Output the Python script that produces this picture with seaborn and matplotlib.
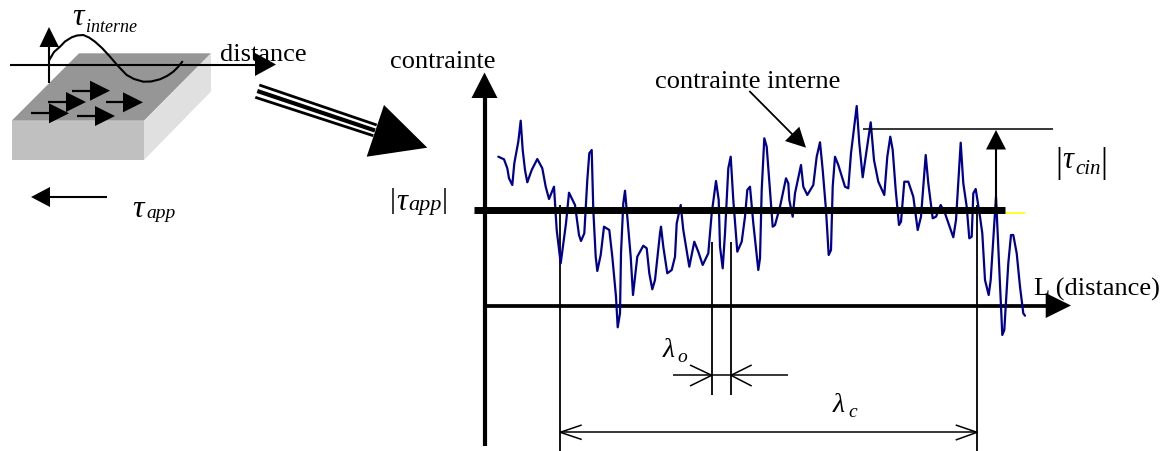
import matplotlib
matplotlib.use('Agg')
import matplotlib.pyplot as plt
import seaborn as sns

sns.set_theme(style='white')
plt.rcParams['font.family'] = ['Liberation Serif', 'DejaVu Serif']

# courbe de contrainte (en pixels)
distance = [498.3, 504, 507.3, 509, 512.3, 514.3, 518.3, 520.7, 522.7, 525, 527.3, 531.7, 537.3, 542.3, 545.7, 549,
            554, 556.7, 560.7, 566, 569, 575, 579, 581, 584.3, 587.3, 589.3, 591.7, 593.3, 595.7, 597.3, 600.7,
            604, 609.3, 612.3, 616, 617.7, 620, 621, 623.3, 625, 627.3, 630.7, 633, 637.3, 643.3, 646.7, 649.3,
            652.3, 655, 660, 661, 663.3, 667.3, 671.7, 675, 676.7, 680.7, 683.3, 689.3, 694.3, 698.3, 702.7, 708.3,
            711.7, 716, 718.7, 720, 722.7, 725, 728.3, 730.7, 733.3, 737.3, 741.7, 745, 747.3, 750, 753.3, 758.3,
            760, 761.7, 764.3, 766.7, 770, 772.7, 775, 780, 786, 788.3, 789.3, 792.7, 795, 801, 803.3, 807.3,
            813.3, 816.7, 820, 822.7, 826, 828.7, 831, 832.7, 835, 838.3, 845, 848.3, 851, 856.7, 859.3, 862.7,
            866.7, 870.7, 874, 878.3, 884.3, 887.3, 890.3, 892.7, 895.7, 899, 901, 904.3, 908.3, 913.3, 917.7, 921,
            925.7, 928.3, 932.7, 936, 940.7, 945, 953.3, 956, 960.7, 963.3, 966.7, 969.3, 971.7, 973.3, 975.7, 980,
            982.3, 985, 988.7, 990.7, 996, 998.3, 1002.3, 1004.3, 1008.3, 1011, 1013.3, 1016.7, 1020, 1023.3, 1025]
contrainte = [156.7, 159.3, 168.3, 178.3, 185, 163.3, 141.7, 120.7, 150, 170, 182.3, 170, 159, 168.3, 186.7, 199,
              186.7, 230, 263.3, 223.3, 192.7, 205, 235, 241, 233.3, 180, 153.3, 150, 210, 256.7, 271, 255,
              226.7, 230, 256.7, 296.7, 327.3, 313.3, 253.3, 203.3, 190.7, 216.7, 256.7, 295, 256.7, 245.7, 248.3, 273.3,
              289.3, 280, 233.3, 226.7, 246.7, 273.3, 270, 256.7, 223.3, 205, 230, 266.7, 241.7, 251.7, 265, 253.3,
              213.3, 181, 200, 246.7, 268.3, 233.3, 168.3, 156.7, 200, 251.7, 241.7, 216.7, 190, 186.7, 223.3, 270,
              258.3, 190, 138.3, 146.7, 190, 226.7, 225, 206.7, 178.3, 183.3, 200, 216.7, 193.3, 165, 186.7, 195,
              185, 156.7, 142.3, 170, 210, 255, 250, 186.7, 156.7, 165, 186.7, 188.3, 153.3, 106, 143.3, 177.3,
              150, 122.3, 160, 181.7, 195, 156.7, 136.7, 150, 190, 225, 221.7, 181.7, 181.7, 196.7, 230, 216.7,
              155, 183.3, 218.3, 216.7, 205, 213.3, 237.3, 220, 142.7, 183.3, 206.7, 238.3, 236.7, 193.3, 189, 216.7,
              233.3, 280, 295, 280, 196.7, 246.7, 335, 330, 263.3, 235, 235, 253.3, 286.7, 313.3, 315.7]

# petite courbe tau interne
interne_x = [49.3, 54, 60, 65, 71.7, 77, 83.3, 89, 95, 102, 110, 118, 126.7, 134, 143.3, 151, 160, 167, 173.3, 178, 182.3]
interne_y = [60, 52, 46.7, 41.5, 37.3, 35.5, 35, 37.5, 41.7, 48, 56.7, 66, 75, 79, 81.7, 81.5, 79.3, 76, 71.7, 67, 61.7]

fig, ax = plt.subplots(figsize=(11.67, 4.51), dpi=100)
fig.subplots_adjust(0, 0, 1, 1)
ax.set_xlim(0, 1167)
ax.set_ylim(451, 0)
ax.axis('off')


def trait(x, y, lw=1.5, color='black', z=3):
    ax.plot(x, y, color=color, lw=lw, solid_capstyle='butt', zorder=z)


def tete(pts, z=5):
    ax.fill([p[0] for p in pts], [p[1] for p in pts], color='black', lw=0, zorder=z)


def fleche_droite(x0, xb, xt, y, h=10):
    trait([x0, xb], [y, y], lw=1.6)
    tete([(xb, y - h), (xt, y), (xb, y + h)])


# bloc
ax.fill([11.7, 79, 211, 144], [120.7, 53.3, 53.3, 120.7], color='#969696', lw=0, zorder=1)
ax.fill([11.7, 144, 144, 11.7], [120.7, 120.7, 160, 160], color='#c0c0c0', lw=0, zorder=1)
ax.fill([144, 211, 211, 144], [120.7, 53.3, 91.5, 160], color='#e0e0e0', lw=0, zorder=1)

# axes du petit schema
trait([49, 49], [83, 45], lw=1.5)
tete([(39.5, 47), (49, 27), (59, 47)])
trait([10, 256], [64.5, 64.5], lw=1.5)
tete([(255, 53), (276, 64.5), (255, 76)])
ax.plot(interne_x, interne_y, color='black', lw=1.5, zorder=4)

fleche_droite(72, 90, 110, 90.7)
fleche_droite(48, 66, 86, 102)
fleche_droite(31, 49, 69, 113.3)
fleche_droite(106, 123, 143, 102.3)
fleche_droite(77, 95, 115, 116)

# fleche tau app
trait([106.7, 50], [197, 197], lw=1.5)
tete([(50, 187), (31, 197), (50, 207)])

# triple fleche
trait([259.3, 376.7], [85, 125], lw=2)
trait([257.3, 375], [91, 130.5], lw=3)
trait([255.3, 373.3], [97.3, 135.7], lw=2)
tete([(384, 105), (427.3, 147.7), (366.7, 156.7)])

# axes du grand schema
trait([484.5, 484.5], [446, 96], lw=3)
tete([(471.5, 98), (484.5, 72.5), (497.5, 98)])
trait([484, 1047], [305.5, 305.5], lw=2.7)
tete([(1045.7, 293), (1071, 305.5), (1045.7, 318)])

sns.lineplot(x=distance, y=contrainte, sort=False, estimator=None, color='#000090', lw=1.6, ax=ax, zorder=3)

# tau app
trait([474, 1025], [212.7, 212.7], lw=1.2, color='#ffff00', z=4)
trait([474, 1005], [210, 210], lw=5, z=5)

# reperes verticaux
trait([560.3, 560.3], [205, 451], lw=1.3, z=2)
trait([711.7, 711.7], [242, 394.5], lw=1.3, z=2)
trait([731, 731], [242, 394.5], lw=1.3, z=2)
trait([977, 977], [205, 451], lw=1.3, z=2)

# lambda o
trait([673.3, 788.3], [375.3, 375.3], lw=1.1)
trait([690, 711.7, 690], [365, 375.3, 386], lw=1.1)
trait([751.7, 731, 751.7], [365, 375.3, 386], lw=1.1)

# lambda c
trait([560.3, 977], [432.3, 432.3], lw=1.1)
trait([581.7, 560.3, 581.7], [425, 432.3, 439.5], lw=1.1)
trait([955.7, 977, 955.7], [425, 432.3, 440], lw=1.1)

# tau cin
trait([863.3, 1053], [129.3, 129.3], lw=1.1)
trait([996, 996], [210, 148], lw=1.5)
tete([(986, 149.5), (996, 130), (1006, 149.5)])

# contrainte interne
trait([749.3, 797], [91, 139], lw=1.3)
tete([(799.3, 126.7), (806, 147.7), (785, 141)])

# textes
T = dict(color='black', va='baseline', ha='left', zorder=7)
ax.text(220, 60.7, 'distance', fontsize=19, **T)
ax.text(390, 68, 'contrainte', fontsize=19, **T)
ax.text(655, 87.7, 'contrainte interne', fontsize=19, **T)
ax.text(1034, 296, 'L (distance)', fontsize=19, **T)

ax.text(72, 25, 'τ', fontsize=23, style='italic', **T)
ax.text(86, 32, 'interne', fontsize=13, style='italic', **T)
ax.text(132, 217, 'τ', fontsize=23, style='italic', **T)
ax.text(146, 218, 'app', fontsize=14, style='italic', **T)

ax.text(390, 208, '|', fontsize=21, **T)
ax.text(396, 210, 'τ', fontsize=22, style='italic', **T)
ax.text(408, 210, 'app', fontsize=16, style='italic', **T)
ax.text(442, 208, '|', fontsize=21, **T)

ax.text(1055, 172, '|', fontsize=25, **T)
ax.text(1062, 168, 'τ', fontsize=22, style='italic', **T)
ax.text(1075, 174, 'cin', fontsize=15, style='italic', **T)
ax.text(1100, 172, '|', fontsize=25, **T)

ax.text(663, 357, 'λ', fontsize=20, style='italic', **T)
ax.text(677, 362, 'o', fontsize=14, style='italic', **T)
ax.text(833, 412.5, 'λ', fontsize=20, style='italic', **T)
ax.text(848, 417, 'c', fontsize=14, style='italic', **T)

fig.savefig('out.png', dpi=100)
